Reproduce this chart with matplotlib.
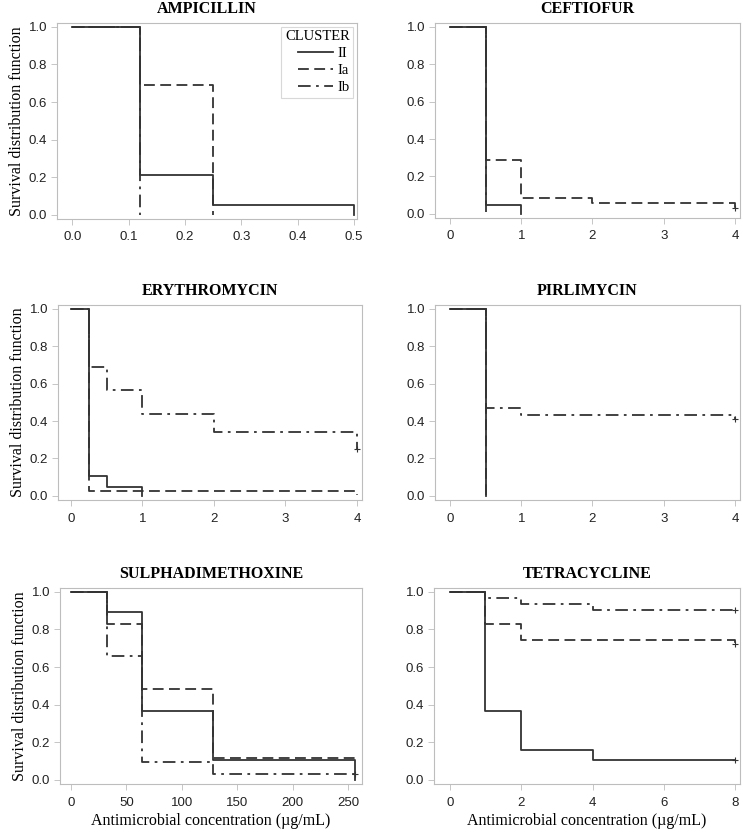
import matplotlib
matplotlib.use("Agg")
import matplotlib.pyplot as plt

# ---- data ----
titles = ["AMPICILLIN", "CEFTIOFUR", "ERYTHROMYCIN", "PIRLIMYCIN",
          "SULPHADIMETHOXINE", "TETRACYCLINE"]
clusters = ["II", "Ia", "Ib"]

amp_x_II = [0, 0.12, 0.25, 0.5]
amp_y_II = [1.0, 0.21, 0.053, 0.0]
amp_x_Ia = [0, 0.12, 0.25]
amp_y_Ia = [1.0, 0.69, 0.0]
amp_x_Ib = [0, 0.12]
amp_y_Ib = [1.0, 0.0]

cef_x_II = [0, 0.5, 1]
cef_y_II = [1.0, 0.05, 0.0]
cef_x_Ia = [0, 0.5, 1, 2, 4]
cef_y_Ia = [1.0, 0.286, 0.086, 0.057, 0.03]
cef_x_Ib = [0, 0.5]
cef_y_Ib = [1.0, 0.01]

ery_x_II = [0, 0.25, 0.5, 1]
ery_y_II = [1.0, 0.105, 0.05, 0.0]
ery_x_Ia = [0, 0.25, 4]
ery_y_Ia = [1.0, 0.028, 0.005]
ery_x_Ib = [0, 0.25, 0.5, 1, 2, 4]
ery_y_Ib = [1.0, 0.69, 0.565, 0.435, 0.343, 0.25]

pir_x_II = [0, 0.5]
pir_y_II = [1.0, 0.0]
pir_x_Ia = [0, 0.5]
pir_y_Ia = [1.0, 0.0]
pir_x_Ib = [0, 0.5, 1, 4]
pir_y_Ib = [1.0, 0.467, 0.433, 0.41]

sul_x_II = [0, 32, 64, 128, 256]
sul_y_II = [1.0, 0.895, 0.368, 0.105, 0.0]
sul_x_Ia = [0, 32, 64, 128, 256]
sul_y_Ia = [1.0, 0.828, 0.483, 0.115, 0.105]
sul_x_Ib = [0, 32, 64, 128, 256]
sul_y_Ib = [1.0, 0.656, 0.094, 0.031, 0.031]

tet_x_II = [0, 1, 2, 4, 8]
tet_y_II = [1.0, 0.368, 0.158, 0.105, 0.105]
tet_x_Ia = [0, 1, 2, 8]
tet_y_Ia = [1.0, 0.828, 0.741, 0.72]
tet_x_Ib = [0, 1, 2, 4, 8]
tet_y_Ib = [1.0, 0.967, 0.935, 0.903, 0.903]

# censored observations (+ marks): (panel, x, y)
censor_panel = [1, 2, 3, 4, 5, 5, 5]
censor_x = [4, 4, 4, 256, 8, 8, 8]
censor_y = [0.03, 0.25, 0.41, 0.031, 0.105, 0.72, 0.903]

xticks = [[0.0, 0.1, 0.2, 0.3, 0.4, 0.5], [0, 1, 2, 3, 4], [0, 1, 2, 3, 4],
          [0, 1, 2, 3, 4], [0, 50, 100, 150, 200, 250], [0, 2, 4, 6, 8]]
xlims = [(-0.027, 0.505), (-0.21, 4.07), (-0.18, 4.07), (-0.21, 4.07),
         (-10, 262.6), (-0.44, 8.13)]

series = [
    [(amp_x_II, amp_y_II), (amp_x_Ia, amp_y_Ia), (amp_x_Ib, amp_y_Ib)],
    [(cef_x_II, cef_y_II), (cef_x_Ia, cef_y_Ia), (cef_x_Ib, cef_y_Ib)],
    [(ery_x_II, ery_y_II), (ery_x_Ia, ery_y_Ia), (ery_x_Ib, ery_y_Ib)],
    [(pir_x_II, pir_y_II), (pir_x_Ia, pir_y_Ia), (pir_x_Ib, pir_y_Ib)],
    [(sul_x_II, sul_y_II), (sul_x_Ia, sul_y_Ia), (sul_x_Ib, sul_y_Ib)],
    [(tet_x_II, tet_y_II), (tet_x_Ia, tet_y_Ia), (tet_x_Ib, tet_y_Ib)],
]

# ---- layout ----
W, H = 743, 834
# frame boxes in pixels: left, top, right, bottom
boxes = [(57, 23, 357, 219), (435, 23, 740, 218),
         (58, 305, 362, 500), (435, 305, 740, 500),
         (60, 588, 362, 784), (434, 588, 740, 784)]

line_col = "#333333"
spine_col = "#bdbdbd"
styles = ["-", (0, (6, 3)), (0, (7, 3, 1.5, 3))]
serif = ["Liberation Serif", "DejaVu Serif"]
sans = ["Liberation Sans", "DejaVu Sans"]

fig = plt.figure(figsize=(W / 100, H / 100), dpi=100)

for i in range(6):
    l, t, r, b = boxes[i]
    ax = fig.add_axes([l / W, 1 - b / H, (r - l) / W, (b - t) / H])
    for k, (xs, ys) in enumerate(series[i]):
        ax.step(xs, ys, where="post", color=line_col, lw=1.3,
                linestyle=styles[k], label=clusters[k])
    for p, cx, cy in zip(censor_panel, censor_x, censor_y):
        if p == i:
            ax.plot(cx, cy, marker="+", ms=5, mew=0.8, color=line_col)

    ax.set_xlim(*xlims[i])
    ax.set_ylim(-0.022, 1.02)
    ax.set_xticks(xticks[i])
    if i == 0:
        ax.set_xticklabels(["%.1f" % v for v in xticks[i]])
    else:
        ax.set_xticklabels([str(v) for v in xticks[i]])
    ax.set_yticks([0, 0.2, 0.4, 0.6, 0.8, 1.0])
    ax.set_yticklabels(["0.0", "0.2", "0.4", "0.6", "0.8", "1.0"])
    for lab in ax.get_xticklabels() + ax.get_yticklabels():
        lab.set_family(sans)
        lab.set_fontsize(9.5)
        lab.set_color("#222222")
    ax.tick_params(length=4, width=0.6, color=spine_col, pad=3)
    ax.tick_params(axis="x", pad=5)
    for s in ax.spines.values():
        s.set_color(spine_col)
        s.set_linewidth(0.8)

    ax.set_title(titles[i], family=serif, fontweight="bold", fontsize=11.5,
                 pad=7)
    if i % 2 == 0:
        ax.set_ylabel("Survival distribution function", family=serif,
                      fontsize=11.5, labelpad=3)
    if i >= 4:
        ax.set_xlabel("Antimicrobial concentration (\u00b5g/mL)", family=serif,
                      fontsize=11.5, labelpad=3)
    if i == 0:
        leg = ax.legend(title="CLUSTER", loc="upper right", frameon=True,
                        fancybox=False, prop={"family": serif, "size": 10.5},
                        handlelength=2.4, handletextpad=0.3, borderpad=0.25,
                        labelspacing=0.25, borderaxespad=0.25,
                        alignment="right")
        leg.get_title().set_family(serif)
        leg.get_title().set_fontsize(10.5)
        leg.get_frame().set_edgecolor("#cfcfcf")
        leg.get_frame().set_linewidth(0.8)

fig.savefig("out.png", dpi=100)
